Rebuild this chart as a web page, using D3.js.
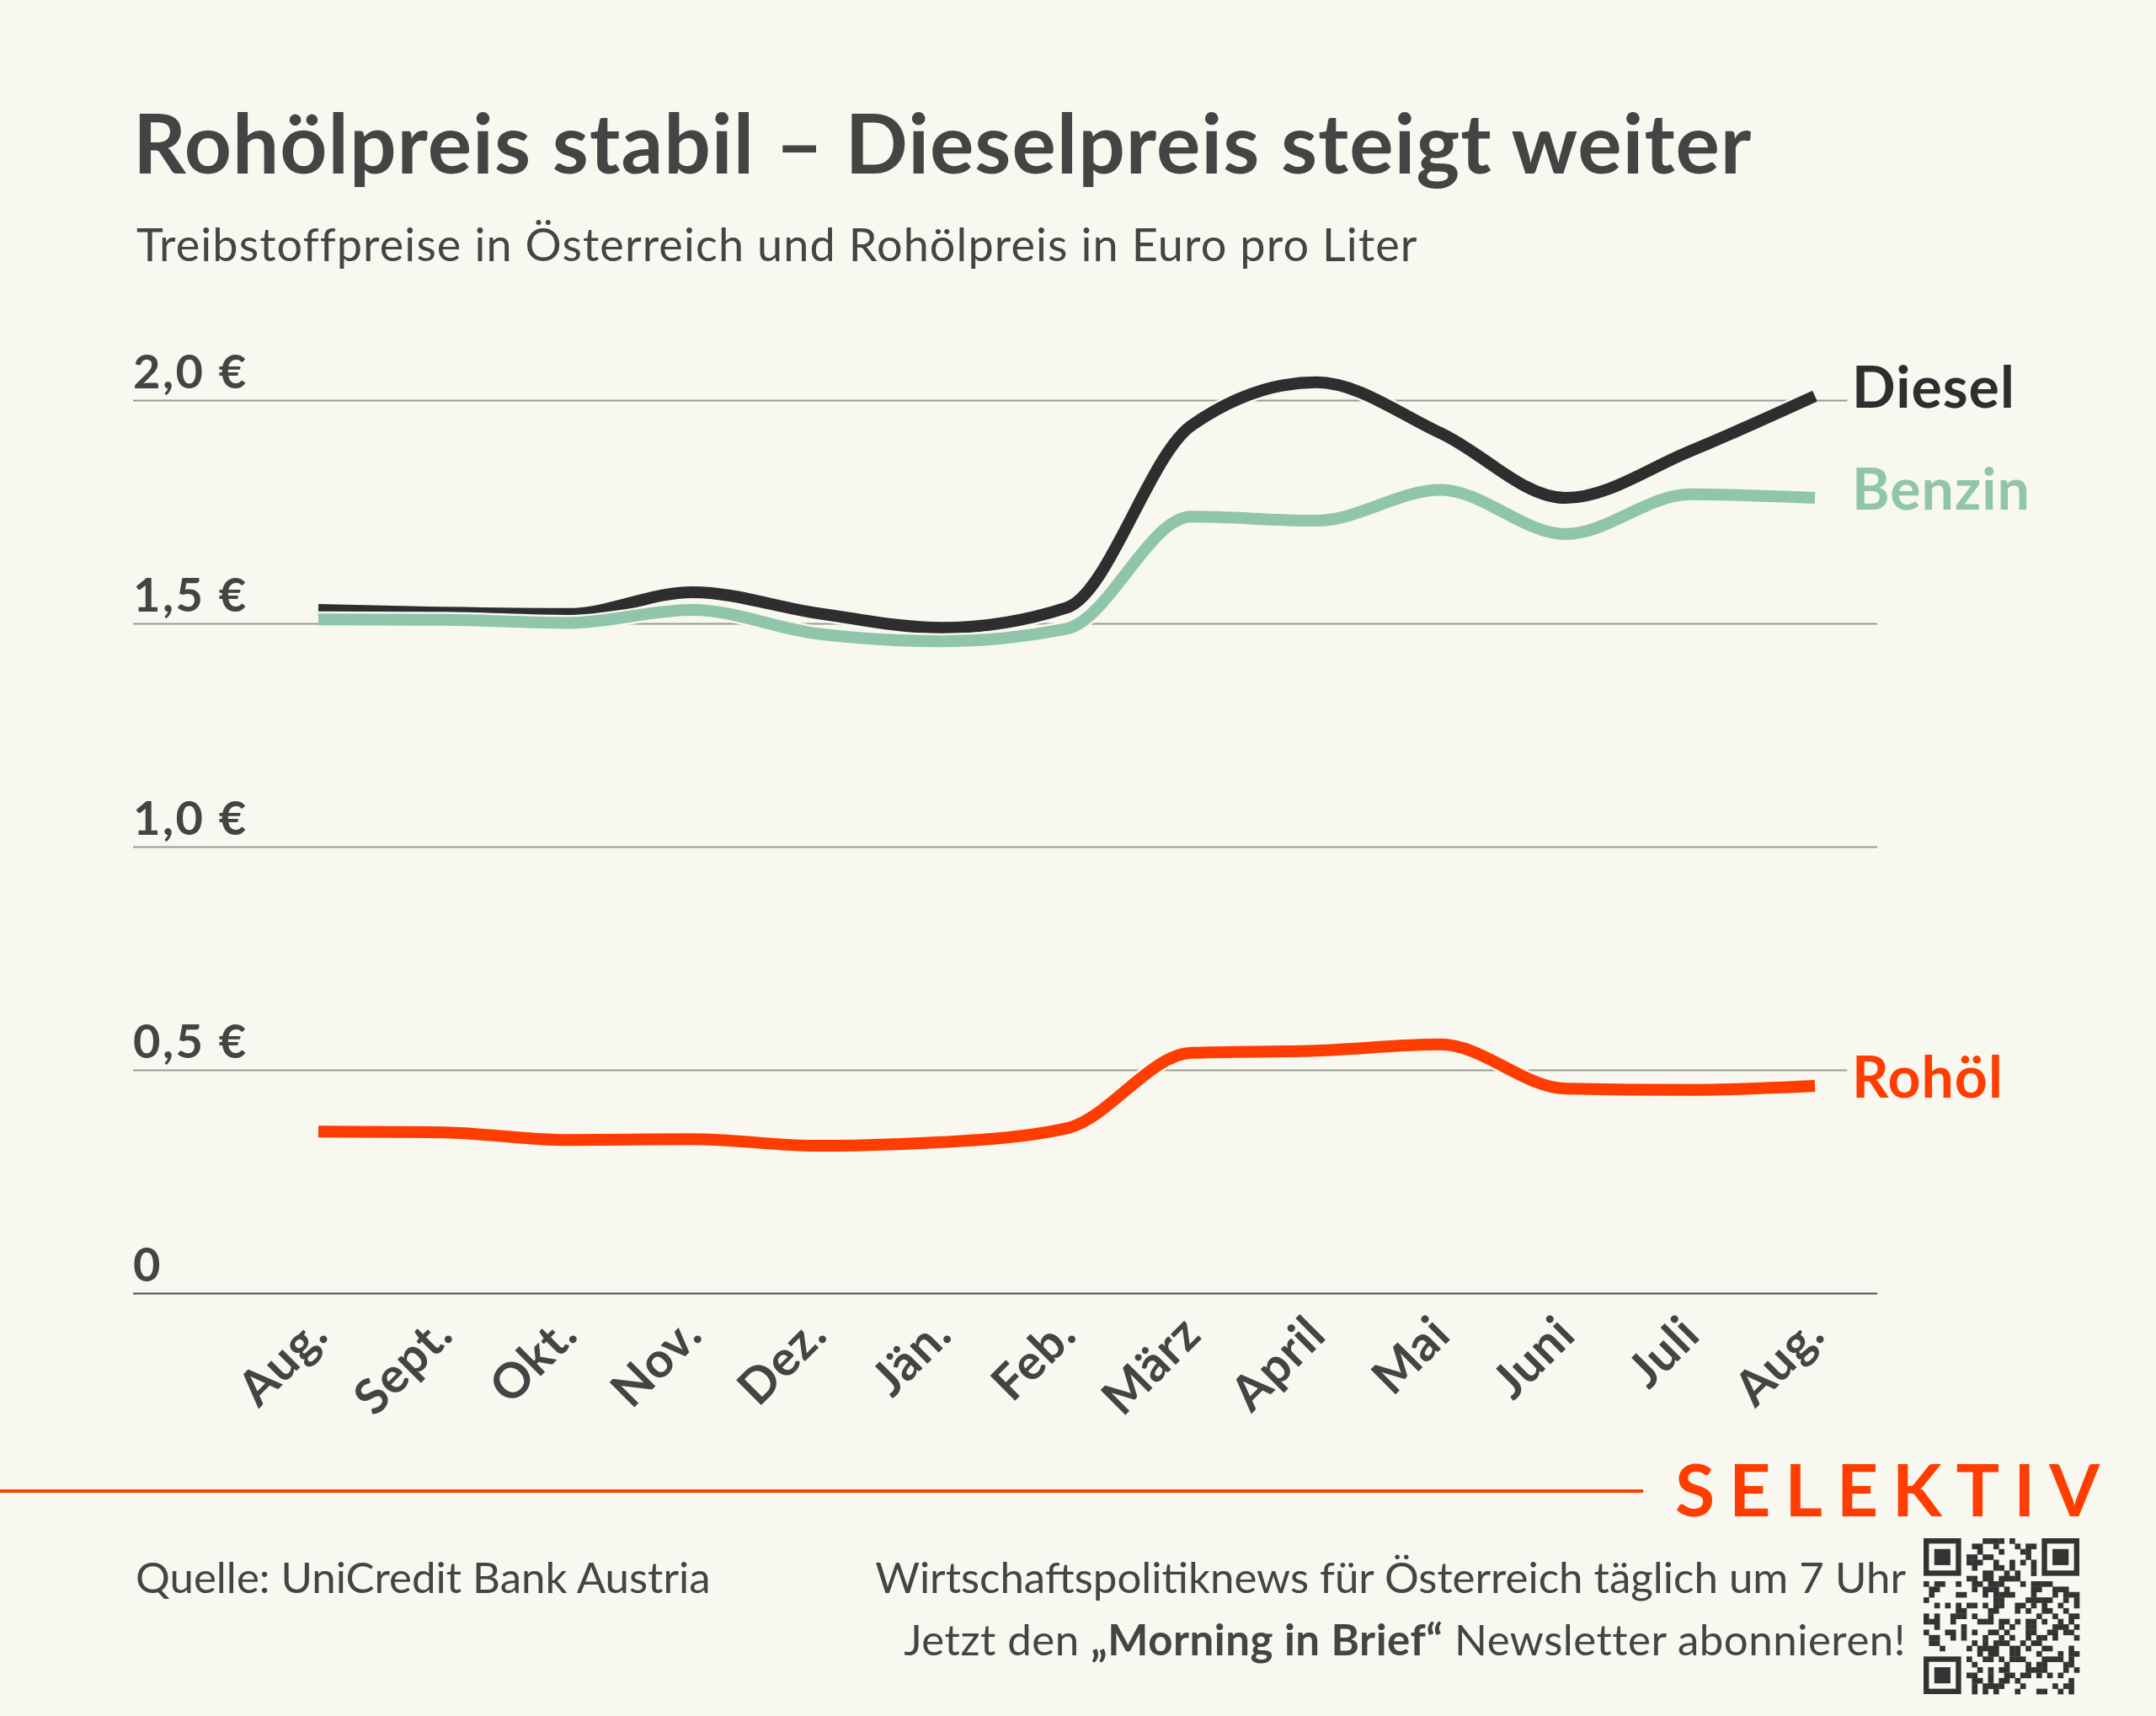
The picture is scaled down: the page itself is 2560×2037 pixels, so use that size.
<!DOCTYPE html>
<html>
<head>
<meta charset="utf-8">
<script src="https://cdn.jsdelivr.net/npm/d3@7"></script>
<style>
  body { margin: 0; background: #f8f7f0; }
  svg { display: block; font-family: Lato, "Noto Sans", sans-serif; }
</style>
</head>
<body>
<svg></svg>
<script>
const MONTHS = ['Aug.', 'Sept.', 'Okt.', 'Nov.', 'Dez.', 'Jän.', 'Feb.', 'März', 'April', 'Mai', 'Juni', 'Juli', 'Aug.'];

const DIESEL = [1.530, 1.524, 1.521, 1.570, 1.523, 1.490, 1.535, 1.943, 2.040, 1.926, 1.781, 1.886, 2.009];
const BENZIN = [1.509, 1.508, 1.501, 1.530, 1.477, 1.460, 1.488, 1.739, 1.730, 1.799, 1.700, 1.789, 1.781];
const ROHOEL = [0.362, 0.360, 0.343, 0.345, 0.330, 0.338, 0.369, 0.538, 0.543, 0.557, 0.458, 0.455, 0.464];

const SERIES_NAMES = ['Rohöl', 'Diesel', 'Benzin'];

const Y_TICKS = [0, 0.5, 1, 1.5, 2];
const Y_TICK_LABELS = ['0', '0,5 €', '1,0 €', '1,5 €', '2,0 €'];

const BG = '#f8f7f0';
const TEXT = '#444444';
const COLORS = { 'Diesel': '#2e2e2e', 'Benzin': '#8fc5ab', 'Rohöl': '#ff3d00' };

const WIDTH = 2560;
const HEIGHT = 2037;

const svg = d3.select('svg')
  .attr('width', WIDTH)
  .attr('height', HEIGHT)

svg.append('rect')
  .attr('width', WIDTH)
  .attr('height', HEIGHT)
  .attr('fill', BG)

// title + subtitle
svg.append('text')
  .text('Rohölpreis stabil – Dieselpreis steigt weiter')
  .attr('x', 158)
  .attr('y', 206)
  .attr('font-size', 98)
  .attr('font-weight', 700)
  .attr('letter-spacing', 1)
  .attr('fill', TEXT)

svg.append('text')
  .text('Treibstoffpreise in Österreich und Rohölpreis in Euro pro Liter')
  .attr('x', 162)
  .attr('y', 310)
  .attr('font-size', 54)
  .attr('letter-spacing', 1.1)
  .attr('fill', TEXT)

const x = d3.scalePoint().domain(d3.range(MONTHS.length)).range([378, 2155]);
const y = d3.scaleLinear().domain([0, 2]).range([1535, 475]);

const GRID_LEFT = 158;
const GRID_RIGHT = 2229;

// y axis: gridlines with labels sitting above them
const yAxis = svg.append('g')
  .attr('transform', `translate(${GRID_LEFT},0)`)
  .call(d3.axisRight(y)
    .tickValues(Y_TICKS)
    .tickSize(GRID_RIGHT - GRID_LEFT)
    .tickFormat((d, i) => Y_TICK_LABELS[i]))

yAxis.select('.domain').remove()
yAxis.selectAll('.tick line')
  .attr('stroke', d => d === 0 ? '#4a4a4a' : '#9a9a94')
  .attr('stroke-width', 2)
yAxis.selectAll('.tick text')
  .attr('x', 0)
  .attr('dy', 0)
  .attr('y', -15)
  .attr('text-anchor', 'start')
  .attr('font-family', 'Lato, sans-serif')
  .attr('font-size', 56)
  .attr('font-weight', 700)
  .attr('letter-spacing', 2.5)
  .attr('fill', TEXT)

// x axis, rotated month labels
const xAxis = svg.append('g')
  .attr('transform', `translate(0,${y(0)})`)
  .call(d3.axisBottom(x).tickSize(0).tickFormat(i => MONTHS[i]))

xAxis.select('.domain').remove()
xAxis.selectAll('.tick text')
  .attr('x', 0)
  .attr('y', 0)
  .attr('dy', 0)
  .attr('text-anchor', 'end')
  .attr('transform', 'translate(14,52) rotate(-45)')
  .attr('font-family', 'Lato, sans-serif')
  .attr('font-size', 58)
  .attr('font-weight', 700)
  .attr('letter-spacing', 1)
  .attr('fill', TEXT)

// lines
const line = d3.line()
  .x((d, i) => x(i))
  .y(d => y(d))
  .curve(d3.curveMonotoneX)

const SERIES = { 'Rohöl': ROHOEL, 'Diesel': DIESEL, 'Benzin': BENZIN };

const lines = svg.append('g')
SERIES_NAMES.forEach(name => {
  lines.append('path')
    .attr('d', line(SERIES[name]))
    .attr('fill', 'none')
    .attr('stroke', BG)
    .attr('stroke-width', 19)
  lines.append('path')
    .attr('d', line(SERIES[name]))
    .attr('fill', 'none')
    .attr('stroke', COLORS[name])
    .attr('stroke-width', 14)
})

// labels at line ends
svg.append('g')
  .selectAll('text')
  .data(SERIES_NAMES)
  .join('text')
  .text(d => d)
  .attr('x', 2199)
  .attr('y', d => y(SERIES[d][SERIES[d].length - 1]) + 14)
  .attr('font-size', 68)
  .attr('font-weight', 700)
  .attr('letter-spacing', 1)
  .attr('fill', d => COLORS[d])
  .attr('stroke', BG)
  .attr('stroke-width', 22)
  .attr('paint-order', 'stroke')

// footer
svg.append('line')
  .attr('x1', 0).attr('x2', 1951)
  .attr('y1', 1770).attr('y2', 1770)
  .attr('stroke', '#ff3d00')
  .attr('stroke-width', 4)

svg.append('text')
  .text('SELEKTIV')
  .attr('x', 1989)
  .attr('y', 1800)
  .attr('font-size', 86)
  .attr('font-weight', 700)
  .attr('fill', '#ff3d00')
  .attr('textLength', 504)
  .attr('lengthAdjust', 'spacing')

svg.append('text')
  .text('Quelle: UniCredit Bank Austria')
  .attr('x', 161)
  .attr('y', 1891)
  .attr('font-size', 51)
  .attr('fill', TEXT)

svg.append('text')
  .text('Wirtschaftspolitiknews für Österreich täglich um 7 Uhr')
  .attr('x', 2263)
  .attr('y', 1891)
  .attr('text-anchor', 'end')
  .attr('font-size', 51)
  .attr('fill', TEXT)

const promo = svg.append('text')
  .attr('x', 2263)
  .attr('y', 1965)
  .attr('text-anchor', 'end')
  .attr('font-size', 51)
  .attr('letter-spacing', 0.5)
  .attr('fill', TEXT)
promo.append('tspan').text('Jetzt den ')
promo.append('tspan').text('„Morning in Brief“').attr('font-weight', 700)
promo.append('tspan').text(' Newsletter abonnieren!')

// qr code style block (decorative)
const QR_N = 29, QR_X = 2284, QR_Y = 1826, QR_M = 185 / 29;
const qr = svg.append('g').attr('fill', '#333')
const finder = (cx, cy) => {
  qr.append('rect').attr('x', QR_X + cx * QR_M).attr('y', QR_Y + cy * QR_M).attr('width', 7 * QR_M).attr('height', 7 * QR_M)
  qr.append('rect').attr('x', QR_X + (cx + 1) * QR_M).attr('y', QR_Y + (cy + 1) * QR_M).attr('width', 5 * QR_M).attr('height', 5 * QR_M).attr('fill', BG)
  qr.append('rect').attr('x', QR_X + (cx + 2) * QR_M).attr('y', QR_Y + (cy + 2) * QR_M).attr('width', 3 * QR_M).attr('height', 3 * QR_M)
}
finder(0, 0); finder(QR_N - 7, 0); finder(0, QR_N - 7)
for (let r = 0; r < QR_N; r++) {
  for (let c = 0; c < QR_N; c++) {
    const inFinder = (r < 8 && c < 8) || (r < 8 && c > QR_N - 9) || (r > QR_N - 9 && c < 8);
    if (inFinder) continue;
    const h = ((r * 73 + c * 151 + r * c * 17) ^ (r * 31 + c * 7)) % 7;
    if (h < 3) {
      qr.append('rect')
        .attr('x', QR_X + c * QR_M)
        .attr('y', QR_Y + r * QR_M)
        .attr('width', QR_M + 0.3)
        .attr('height', QR_M + 0.3)
    }
  }
}
</script>
</body>
</html>
